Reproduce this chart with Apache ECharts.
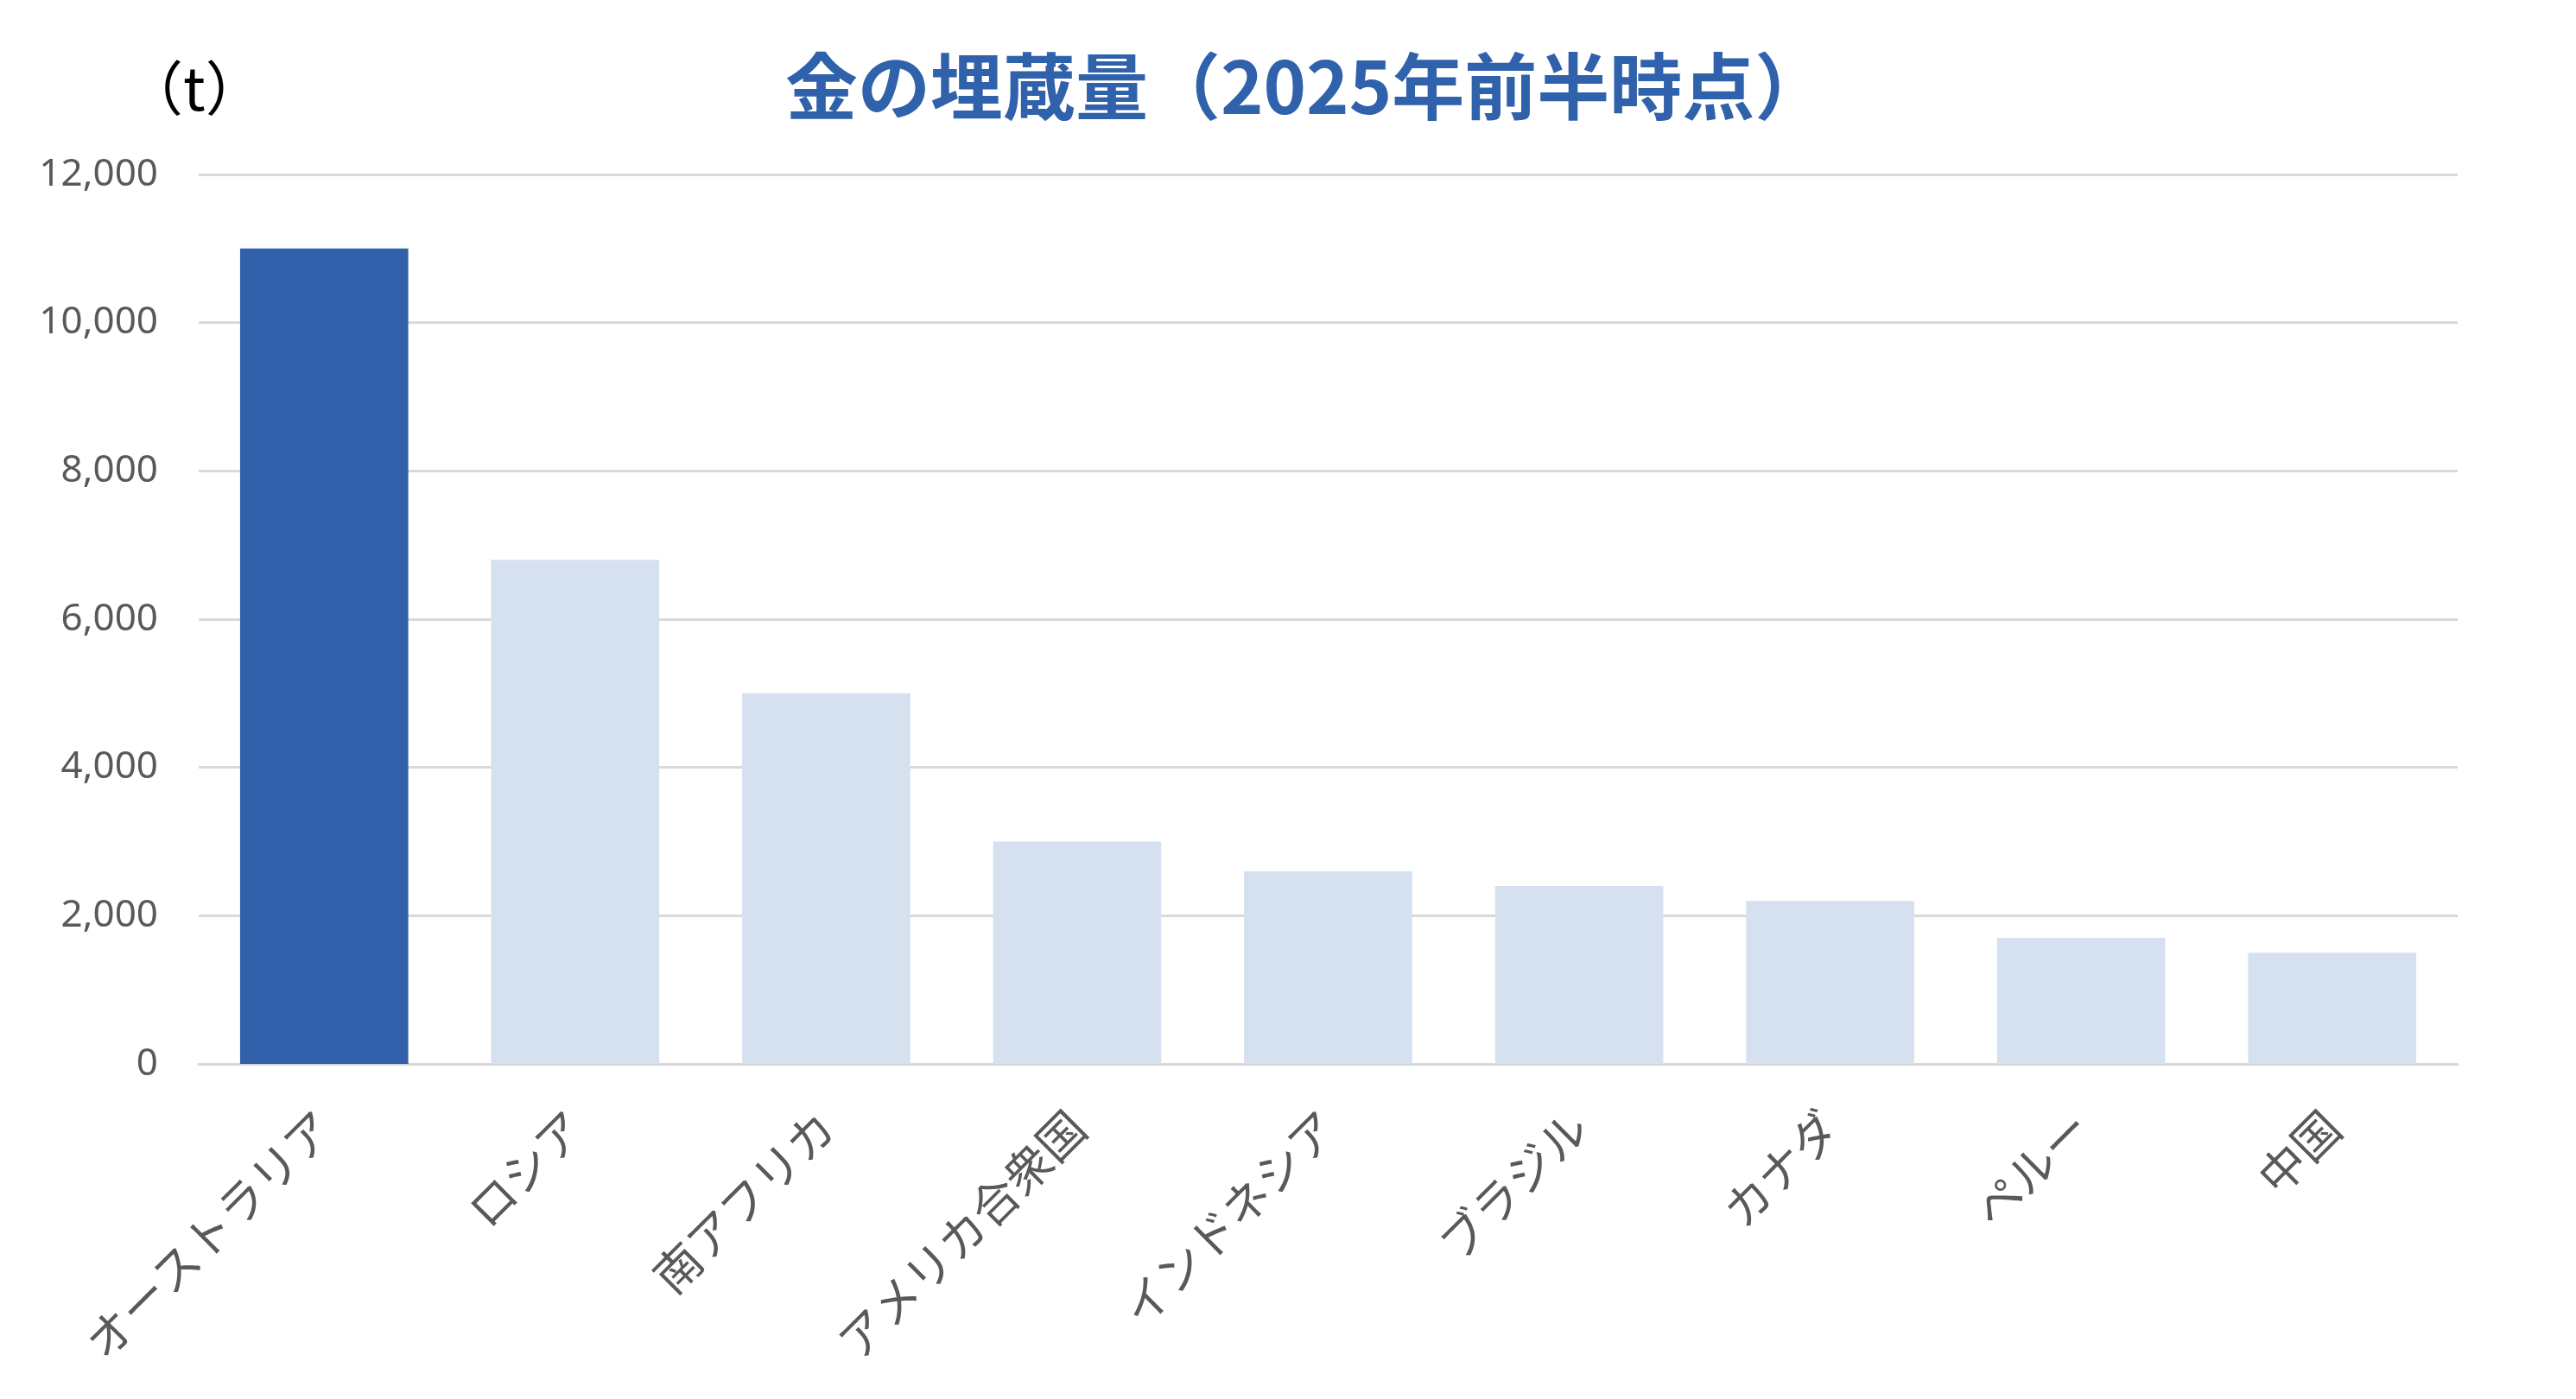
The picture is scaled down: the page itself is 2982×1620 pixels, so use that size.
<!DOCTYPE html>
<html>
<head>
<meta charset="utf-8">
<script src="https://cdn.jsdelivr.net/npm/echarts@6/dist/echarts.min.js"></script>
<style>
html,body{margin:0;padding:0;background:#fff;}
#chart{width:2982px;height:1620px;}
</style>
</head>
<body>
<div id="chart"></div>
<script>
const categories = ['オーストラリア','ロシア','南アフリカ','アメリカ合衆国','インドネシア','ブラジル','カナダ','ペルー','中国'];
const reserves = [11000, 6800, 5000, 3000, 2600, 2400, 2200, 1700, 1500];
const highlightIndex = 0;
const titleText = '金の埋蔵量（2025年前半時点）';
const unitText = '（t）';

const chart = echarts.init(document.getElementById('chart'));
chart.setOption({
  animation: false,
  backgroundColor: '#ffffff',
  title: {
    text: titleText,
    left: 904,
    top: 53,
    textStyle: {
      fontFamily: 'Noto Sans CJK JP',
      fontSize: 84,
      fontWeight: 'bold',
      color: '#3062AC'
    }
  },
  graphic: [{
    type: 'text',
    left: 144,
    top: 68,
    style: {
      text: unitText,
      fontFamily: 'Noto Sans CJK JP',
      fontSize: 68,
      fill: '#000000'
    }
  }],
  grid: { left: 230, right: 137, top: 202, bottom: 388, containLabel: false },
  xAxis: {
    type: 'category',
    data: categories,
    axisLine: { show: true, lineStyle: { color: '#D9D9D9', width: 3 } },
    axisTick: { show: false },
    axisLabel: {
      rotate: 45,
      interval: 0,
      margin: 64,
      fontFamily: 'Noto Sans CJK JP',
      fontSize: 54,
      color: '#595959'
    }
  },
  yAxis: {
    type: 'value',
    min: 0,
    max: 12000,
    interval: 2000,
    axisLine: { show: false },
    axisTick: { show: false },
    splitLine: { lineStyle: { color: '#D9D9D9', width: 3 } },
    axisLabel: {
      margin: 47,
      fontFamily: 'Noto Sans',
      fontSize: 44,
      color: '#595959',
      formatter: v => v.toLocaleString('en-US')
    }
  },
  series: [{
    type: 'bar',
    data: reserves.map((v, i) => ({
      value: v,
      itemStyle: { color: i === highlightIndex ? '#3061AA' : '#D6E1F0' }
    })),
    barCategoryGap: '33%'
  }]
});
</script>
</body>
</html>
